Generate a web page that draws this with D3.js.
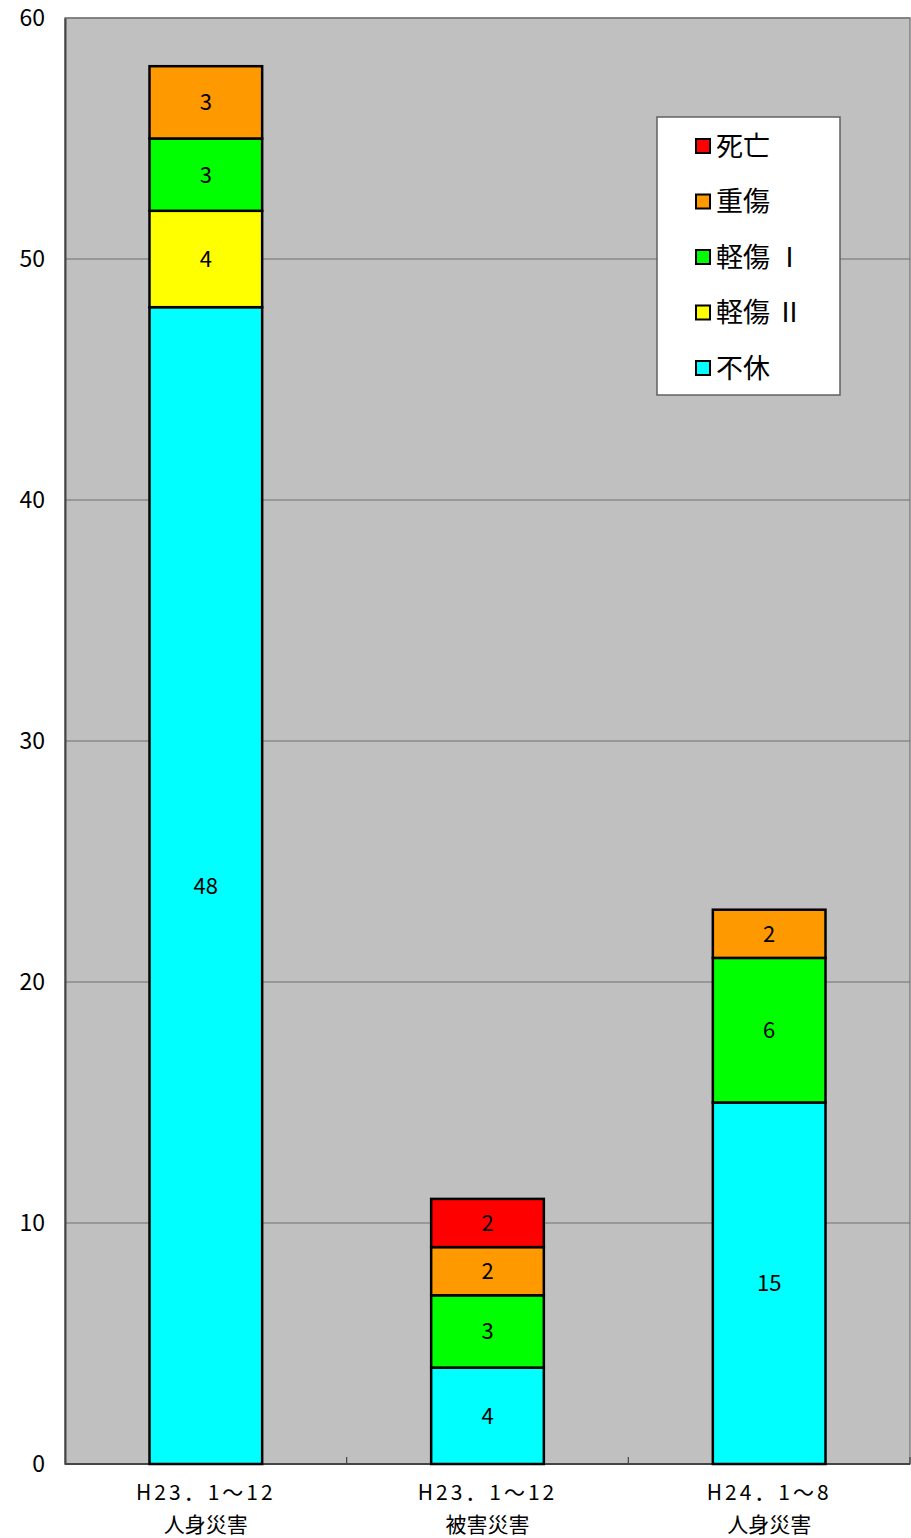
<!DOCTYPE html>
<html>
<head>
<meta charset="utf-8">
<script src="https://cdn.jsdelivr.net/npm/d3@7"></script>
<style>
  body { margin: 0; background: #fff; }
  text { font-family: "Noto Sans CJK JP", "Noto Sans", sans-serif; }
</style>
</head>
<body>
<svg id="chart"></svg>
<script>
const width = 911, height = 1538;

const MARGIN = { LEFT: 65, RIGHT: 1, TOP: 18, BOTTOM: 74 };

// data
const categories = ["c1", "c2", "c3"];
const catLine1 = ["H23．1～12", "H23．1～12", "H24．1～8"];
const catLine2 = ["人身災害", "被害災害", "人身災害"];
const seriesNames = ["不休", "軽傷Ⅱ", "軽傷Ⅰ", "重傷", "死亡"];   // bottom -> top
const fuKyu   = [48, 4, 15];
const keishou2 = [4, 0, 0];
const keishou1 = [3, 3, 6];
const juushou = [3, 2, 2];
const shibou  = [0, 2, 0];
const seriesColors = ["#00ffff", "#ffff00", "#00ff00", "#ff9900", "#ff0000"];
const yTicks = [0, 10, 20, 30, 40, 50, 60];
const legendOrder = ["死亡", "重傷", "軽傷 Ⅰ", "軽傷 Ⅱ", "不休"];
const legendColors = ["#ff0000", "#ff9900", "#00ff00", "#ffff00", "#00ffff"];

const seriesValues = [fuKyu, keishou2, keishou1, juushou, shibou];
const rows = categories.map((c, i) => {
    const r = { cat: c };
    seriesNames.forEach((s, j) => r[s] = seriesValues[j][i]);
    return r;
});

const svg = d3.select("#chart").attr("width", width).attr("height", height);

const x = d3.scaleBand()
    .domain(categories)
    .range([MARGIN.LEFT, width - MARGIN.RIGHT])
    .paddingInner(0.6)
    .paddingOuter(0.3);

const y = d3.scaleLinear()
    .domain([0, 60])
    .range([height - MARGIN.BOTTOM, MARGIN.TOP]);

// plot background
svg.append("rect")
    .attr("x", MARGIN.LEFT).attr("y", MARGIN.TOP)
    .attr("width", width - MARGIN.RIGHT - MARGIN.LEFT)
    .attr("height", y(0) - MARGIN.TOP)
    .attr("fill", "#c0c0c0")
    .attr("stroke", "#808080").attr("stroke-width", 1.5);

// gridlines
svg.append("g")
    .selectAll("line")
    .data(yTicks.slice(1))
    .enter().append("line")
    .attr("x1", MARGIN.LEFT).attr("x2", width - MARGIN.RIGHT)
    .attr("y1", d => y(d)).attr("y2", d => y(d))
    .attr("stroke", "#6e6e6e").attr("stroke-width", 1.2);

// y axis
const yAxis = svg.append("g")
    .attr("transform", `translate(${MARGIN.LEFT},0)`)
    .call(d3.axisLeft(y).tickValues(yTicks).tickSize(0).tickPadding(20));
yAxis.select(".domain").attr("stroke", "#444").attr("stroke-width", 2);
yAxis.selectAll("text").attr("font-size", 23).attr("fill", "#000");

// x axis line + boundary ticks (pointing up)
svg.append("line")
    .attr("x1", MARGIN.LEFT).attr("x2", width - MARGIN.RIGHT)
    .attr("y1", y(0)).attr("y2", y(0))
    .attr("stroke", "#444").attr("stroke-width", 2);
svg.append("g").selectAll("line")
    .data(categories)
    .enter().append("line")
    .attr("x1", d => x(d) + x.bandwidth() + x.step() * 0.3)
    .attr("x2", d => x(d) + x.bandwidth() + x.step() * 0.3)
    .attr("y1", y(0)).attr("y2", y(0) - 7)
    .attr("stroke", "#444").attr("stroke-width", 1.2);

// stacked bars
const stack = d3.stack().keys(seriesNames)(rows);
const layers = svg.append("g").selectAll("g")
    .data(stack)
    .enter().append("g")
    .attr("fill", (d, i) => seriesColors[i]);

layers.selectAll("rect")
    .data(d => d.filter(p => p[1] - p[0] > 0))
    .enter().append("rect")
    .attr("x", d => x(d.data.cat))
    .attr("y", d => y(d[1]))
    .attr("width", x.bandwidth())
    .attr("height", d => y(d[0]) - y(d[1]))
    .attr("stroke", "#000").attr("stroke-width", 2.5);

layers.selectAll("text")
    .data(d => d.filter(p => p[1] - p[0] > 0))
    .enter().append("text")
    .attr("x", d => x(d.data.cat) + x.bandwidth() / 2)
    .attr("y", d => (y(d[0]) + y(d[1])) / 2)
    .attr("dy", "0.36em")
    .attr("text-anchor", "middle")
    .attr("font-size", 22)
    .attr("fill", "#000")
    .text(d => d[1] - d[0]);

// category labels, two lines each
const xl = svg.append("g").selectAll("g")
    .data(categories)
    .enter().append("g");
xl.append("text")
    .attr("x", d => x(d) + x.bandwidth() / 2)
    .attr("y", 1500)
    .attr("text-anchor", "middle")
    .attr("font-size", 21)
    .attr("letter-spacing", 3)
    .attr("fill", "#000")
    .text((d, i) => catLine1[i]);
xl.append("text")
    .attr("x", d => x(d) + x.bandwidth() / 2)
    .attr("y", 1532)
    .attr("text-anchor", "middle")
    .attr("font-size", 21)
    .attr("fill", "#000")
    .text((d, i) => catLine2[i]);

// legend
const lg = svg.append("g").attr("transform", "translate(657,117)");
lg.append("rect")
    .attr("width", 183).attr("height", 278)
    .attr("fill", "#fff").attr("stroke", "#606060").attr("stroke-width", 1.5);
const items = lg.selectAll("g.item")
    .data(legendOrder)
    .enter().append("g")
    .attr("class", "item")
    .attr("transform", (d, i) => `translate(0,${29 + i * 55.5})`);
items.append("rect")
    .attr("x", 39).attr("y", -7)
    .attr("width", 14).attr("height", 14)
    .attr("fill", (d, i) => legendColors[i])
    .attr("stroke", "#000").attr("stroke-width", 2);
items.append("text")
    .attr("x", 59).attr("dy", "0.36em")
    .attr("font-size", 27).attr("fill", "#000")
    .text(d => d);
</script>
</body>
</html>
